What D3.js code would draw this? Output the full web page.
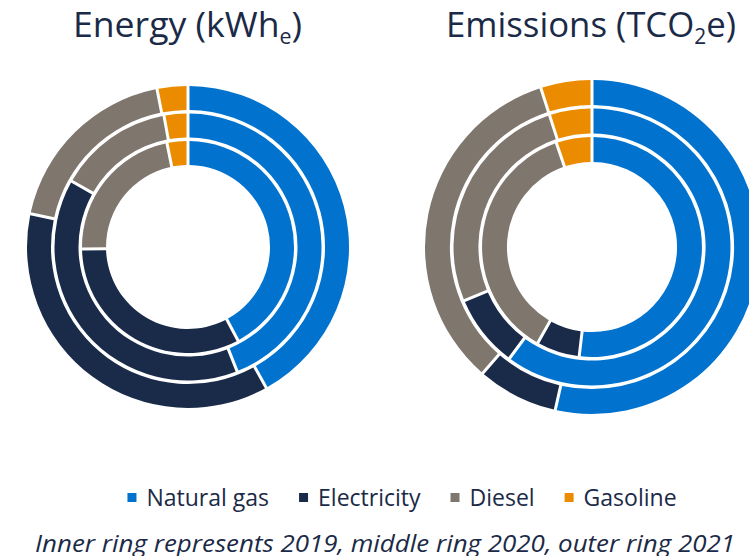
<!DOCTYPE html>
<html lang="en">
  <head>
    <meta charset="UTF-8" />
    <title>Energy and emissions rings</title>
    <style>
      body { margin: 0; background: #fff; }
      text { font-family: "Open Sans", "Noto Sans", sans-serif; }
    </style>
    <script src="https://d3js.org/d3.v7.min.js"></script>
  </head>
  <body>
    <div id="chart"></div>
    <script>
      // fuel types, drawn clockwise from 12 o'clock
      const fuels = ["Natural gas", "Electricity", "Diesel", "Gasoline"];
      const fuelColors = ["#0173CF", "#1A2B49", "#7F766E", "#EB8C00"];
      const years = ["2019", "2020", "2021"]; // inner -> outer

      // shares (%) per year, order as in fuels
      const energy2019 = [42.4, 32.6, 22.1, 2.9];
      const energy2020 = [44.3, 39.4, 13.8, 2.6];
      const energy2021 = [42.1, 36.5, 18.5, 2.8];

      const emissions2019 = [52.2, 6.1, 36.7, 5.0];
      const emissions2020 = [60.6, 8.3, 26.4, 4.7];
      const emissions2021 = [53.9, 7.6, 33.8, 4.7];

      const W = 749, H = 556;
      const textColor = "#1B2A47";

      const svg = d3.select("#chart").append("svg")
        .attr("width", W).attr("height", H);

      const charts = [
        { title: "Energy (kWh", sub: "e", rest: ")", cx: 188, cy: 247, k: 1,
          tx: 73, tw: 229,
          rings: [energy2019, energy2020, energy2021] },
        { title: "Emissions (TCO", sub: "2", rest: "e)", cx: 592, cy: 247, k: 167 / 161,
          tx: 446, tw: 290,
          rings: [emissions2019, emissions2020, emissions2021] }
      ];

      // ring radii of the left chart, the right one is a bit bigger
      const ringRadii = [[82, 106], [109.5, 133.5], [137, 161]];

      const pie = d3.pie().sort(null).padAngle(0.02);
      const color = d3.scaleOrdinal().domain(fuels).range(fuelColors);

      charts.forEach(function (c) {
        const g = svg.append("g").attr("transform", `translate(${c.cx},${c.cy})`);
        c.rings.forEach(function (vals, i) {
          const arc = d3.arc()
            .innerRadius(ringRadii[i][0] * c.k)
            .outerRadius(ringRadii[i][1] * c.k)
            .padRadius(150);
          g.append("g").attr("class", "ring-" + years[i])
            .selectAll("path")
            .data(pie(vals))
            .join("path")
            .attr("d", arc)
            .attr("fill", (d, j) => color(fuels[j]));
        });

        // title with subscript
        const t = svg.append("text")
          .attr("x", c.tx)
          .attr("y", 37)
          .attr("font-size", 35)
          .attr("fill", textColor);
        t.append("tspan").text(c.title);
        t.append("tspan").attr("font-size", 21).attr("dy", 7).text(c.sub);
        t.append("tspan").attr("dy", -7).text(c.rest);
        t.attr("textLength", c.tw).attr("lengthAdjust", "spacingAndGlyphs");
      });

      // legend, centred under both charts
      const legend = svg.append("g");
      let lx = 0;
      fuels.forEach(function (f, i) {
        const item = legend.append("g").attr("transform", `translate(${lx},0)`);
        item.append("rect")
          .attr("x", 0).attr("y", -13)
          .attr("width", 9).attr("height", 9)
          .attr("fill", color(f));
        const tt = item.append("text")
          .attr("x", 19).attr("y", 0)
          .attr("font-size", 23)
          .attr("fill", textColor)
          .text(f);
        lx += 19 + tt.node().getComputedTextLength() + 30;
      });
      const lw = lx - 30;
      legend.attr("transform", `translate(${402 - lw / 2},506)`);

      svg.append("text")
        .attr("x", 35)
        .attr("y", 552)
        .attr("font-size", 23)
        .attr("font-style", "italic")
        .attr("fill", textColor)
        .attr("textLength", 700)
        .attr("lengthAdjust", "spacingAndGlyphs")
        .text("Inner ring represents 2019, middle ring 2020, outer ring 2021");
    </script>
  </body>
</html>
